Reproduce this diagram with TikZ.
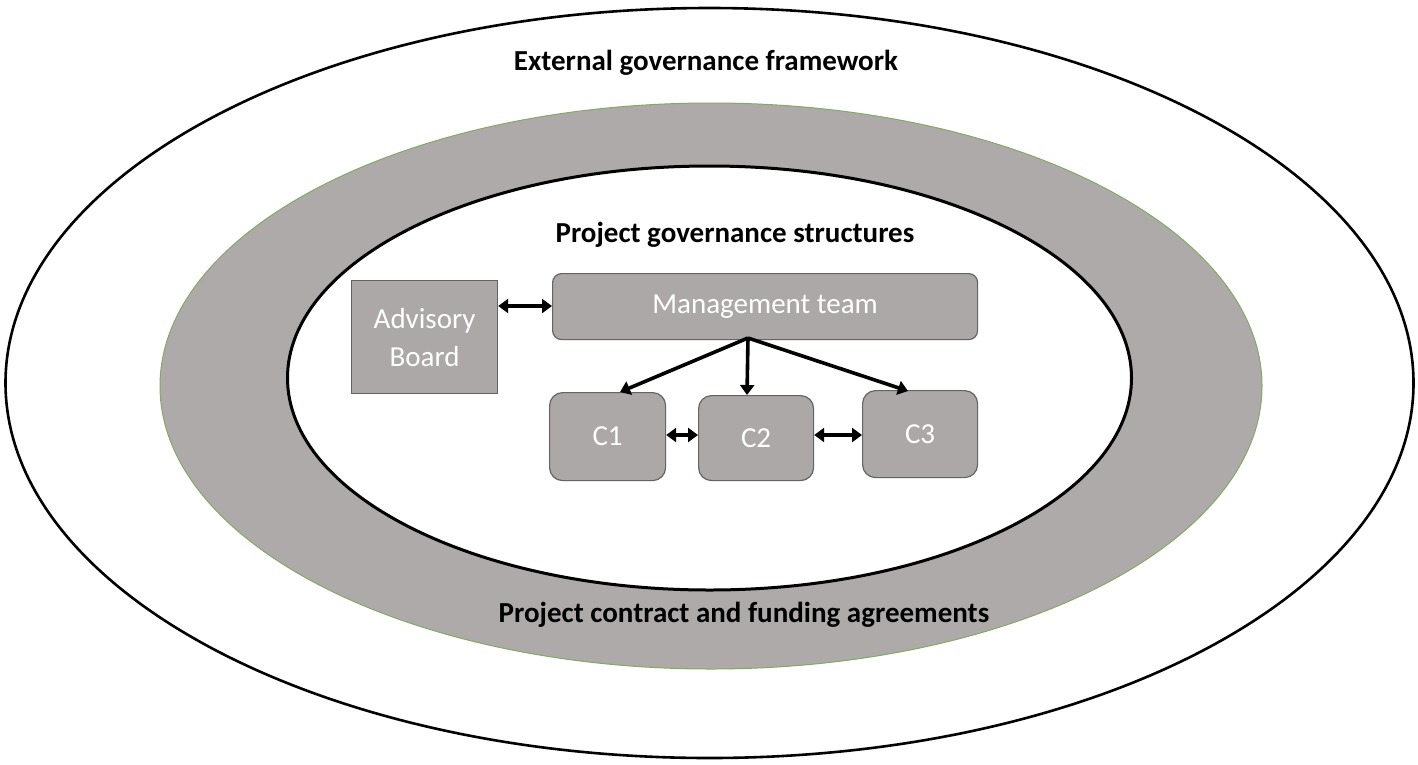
\documentclass[tikz,border=0pt]{standalone}
\usepackage{fontspec}
\setmainfont{Carlito}
\usetikzlibrary{arrows.meta}
\definecolor{ringgray}{RGB}{174,170,170}
\definecolor{boxgray}{RGB}{172,168,168}
\definecolor{boxedge}{RGB}{100,100,100}
\definecolor{ringedge}{RGB}{130,170,100}
\tikzset{
  box/.style={draw=boxedge, line width=1.2pt, fill=boxgray, text=white, font=\fontsize{29}{34}\selectfont, inner sep=0pt, align=center},
  title/.style={font=\bfseries\fontsize{29}{34}\selectfont, inner sep=0pt},
  link/.style={line width=3.6pt, -{Triangle[length=10pt,width=14pt]}},
  dlink/.style={line width=3.6pt, {Triangle[length=10pt,width=14pt]}-{Triangle[length=10pt,width=14pt]}}
}
\begin{document}
\begin{tikzpicture}[x=1pt,y=-1pt]
\useasboundingbox (0,0) rectangle (1418,764);
% outer ellipse
\draw[line width=2.6pt] (709.5,383) ellipse [x radius=704, y radius=375];
% gray ring
\fill[ringgray, draw=ringedge, line width=1pt] (711,386) ellipse [x radius=551, y radius=283];
\fill[white, draw=black, line width=3pt] (709.5,378) ellipse [x radius=422, y radius=212];
% titles
\node[title] (t1) at (706,63) {External governance framework};
\node[title] (t2) at (735,235) {Project governance structures};
\node[title] (t3) at (744,615) {Project contract and funding agreements};
% boxes
\node[box, minimum width=146pt, minimum height=113pt, anchor=north west] (adv) at (351,280) {Advisory\\[4pt]Board};
\node[box, rounded corners=9pt, minimum width=425pt, minimum height=66pt, anchor=north west] (mgmt) at (552,273) {Management team};
\node[box, rounded corners=13pt, minimum width=116pt, minimum height=88pt, anchor=north west] (c1) at (549,392) {C1};
\node[box, rounded corners=13pt, minimum width=115pt, minimum height=85pt, anchor=north west] (c2) at (698,395) {C2};
\node[box, rounded corners=13pt, minimum width=115pt, minimum height=87pt, anchor=north west] (c3) at (862,390) {C3};
% connectors
\coordinate (src) at (748,338);
\draw[dlink] (adv.east |- 0,306) -- (mgmt.west |- 0,306);
\draw[link] (src) -- (620,392);
\draw[link] (src) -- (747,395);
\draw[link] (src) -- (908,391);
\draw[dlink] (c1.east |- 0,435) -- (c2.west |- 0,435);
\draw[dlink] (c2.east |- 0,435) -- (c3.west |- 0,435);
\end{tikzpicture}
\end{document}
